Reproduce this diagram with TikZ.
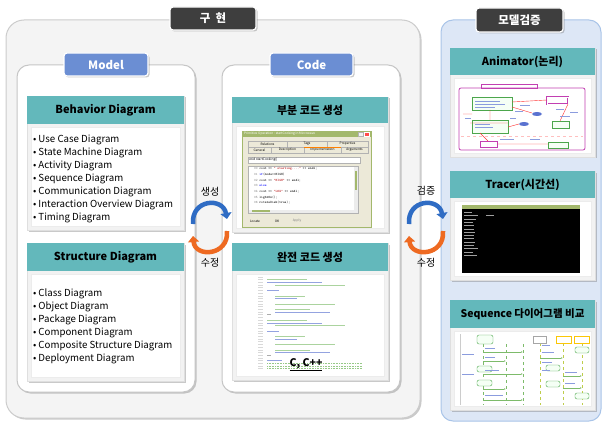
\documentclass[tikz,border=0pt]{standalone}
\usepackage{fontspec}
\setmainfont{Noto Sans CJK KR}
\usetikzlibrary{fit,shadows,arrows.meta}
\definecolor{tealhd}{HTML}{63B8BB}
\definecolor{tagblue}{HTML}{6B8ED3}
\definecolor{tagdark}{HTML}{3E3E3E}
\definecolor{implbg}{HTML}{F4F4F4}
\definecolor{verbg}{HTML}{DDE7F6}
\definecolor{verline}{HTML}{A9C4E8}
\definecolor{arrblue}{HTML}{2F6CC4}
\definecolor{arrorange}{HTML}{EE6A22}
\definecolor{shotgreen}{HTML}{A3B86C}
\definecolor{shotpanel}{HTML}{ECE9D8}
\definecolor{animpink}{HTML}{C23FB2}
\definecolor{cmt}{HTML}{7DBB6A}
\definecolor{kw}{HTML}{5A72D0}

\begin{document}
\begin{tikzpicture}[x=1pt,y=-1pt,
  box/.style={inner sep=0pt,outer sep=0pt},
  shade/.style={drop shadow={shadow xshift=1.5pt,shadow yshift=-1.5pt,opacity=.35,fill=black!60}},
  panel/.style={box,shade,fill=white,draw=gray!45,line width=1pt,rounded corners=12pt},
  tag/.style={box,shade,draw=white,line width=1.2pt,rounded corners=3pt,text=white,font=\bfseries\fontsize{11.5}{11.5}\selectfont},
  card/.style={box,shade,fill=gray!10,draw=gray!25},
  cardhead/.style={box,fill=tealhd},
  cardbody/.style={box,fill=white,draw=gray!15},
  headtext/.style={box,font=\bfseries\fontsize{11}{11}\selectfont},
  listtext/.style={box,align=left,anchor=north west,font=\fontsize{9.7}{13}\selectfont},
  turnlabel/.style={box,font=\fontsize{10}{10}\selectfont},
  turnblue/.style={draw=arrblue,line width=4.5pt,-{Triangle[length=6pt,width=11pt]}},
  turnorange/.style={draw=arrorange,line width=4.5pt,-{Triangle[length=6pt,width=11pt]}},
  tiny/.style={box,font=\fontsize{3.2}{4}\selectfont},
  shot/.style={box,line width=.4pt},
  smgreen/.style={draw=green!50!black!70,fill=green!4,line width=.4pt},
]

  \newcommand\Card[7]{%
    \node[card,fit={(#2,#3) (#4,#5)}] (#1) {};
    \node[cardbody,fit={(#2+4,#6+3) (#4-4,#5-4)}] (#1-body) {};
    \node[cardhead,fit={(#2,#3) (#4,#6)}] (#1-head) {};
    \node[headtext] (#1-title) at (#1-head.center) {#7};
  }

  \useasboundingbox (0,0) rectangle (605,425);

  %% outer frames
  \node[box,shade,fill=implbg,draw=gray!40,line width=1pt,rounded corners=18pt,fit={(6,20) (420,418)}] (impl) {};
  \node[box,fill=verbg,draw=verline,line width=1pt,rounded corners=12pt,fit={(441,20) (601,421)}] (verify) {};
  \node[tag,fill=tagdark,minimum width=86pt,minimum height=23pt] (implTag) at (213,18.5) {구\hspace{.45em}현};
  \node[tag,fill=tagdark,minimum width=87pt,minimum height=24pt] (verifyTag) at (519.5,20) {모델검증};

  %% model / code
  \node[panel,fit={(17,65) (195,392)}] (model) {};
  \node[panel,fit={(222,65) (400,392)}] (code) {};
  \node[tag,fill=tagblue,minimum width=84pt,minimum height=23pt] (modelTag) at (106,64.5) {Model};
  \node[tag,fill=tagblue,minimum width=83pt,minimum height=23pt] (codeTag) at (311.5,64.5) {Code};

  \Card{behav}{27}{96}{184}{230}{124}{Behavior Diagram}
  \Card{struct}{27}{243}{184}{381}{271}{Structure Diagram}
  \Card{partial}{232}{97}{388}{232}{123}{부분 코드 생성}
  \Card{full}{232}{243}{388}{380}{271}{완전 코드 생성}
  \Card{anim}{450}{48}{595}{157}{75}{Animator(논리)}
  \Card{tracer}{450}{171}{595}{280}{198}{Tracer(시간선)}
  \Card{seq}{450}{300}{595}{410}{328}{{\fontsize{10.5}{10.5}\selectfont Sequence 다이어그램 비교}}

  \node[listtext] (behav-list) at (33,135) {• Use Case Diagram\\• State Machine Diagram\\• Activity Diagram\\• Sequence Diagram\\• Communication Diagram\\• Interaction Overview Diagram\\• Timing Diagram};
  \node[listtext] (struct-list) at (33,289) {• Class Diagram\\• Object Diagram\\• Package Diagram\\• Component Diagram\\• Composite Structure Diagram\\• Deployment Diagram};

  %% partial code screenshot
  \node[shot,fill=shotpanel,draw=shotgreen,line width=.8pt,fit={(242,131) (371,227)}] (pshot) {};
  \node[shot,fill=shotgreen,fit={(242,131) (371,137)}] (pbar) {};
  \node[tiny,text=white,anchor=west] (ptitle) at (244,134) {Primitive Operation : startCooking in Microwave};
  \node[shot,fill=gray!10,draw=gray!60,fit={(358,132) (363,136)}] (pmin) {};
  \node[shot,fill=red!70,draw=white,fit={(364,132) (369,136)}] (pclose) {};
  \foreach \a/\b/\t [count=\i] in {248/287/Relations,287/327/Tags,327/368/Properties}{
    \node[shot,draw=gray!60,fill=shotpanel,fit={(\a,141) (\b,147)}] (tabA\i) {};
    \node[tiny] (tabAt\i) at (tabA\i) {\t};
  }
  \foreach \a/\b/\t [count=\i] in {248/271/General,271/304/Description,304/341/Implementation,341/368/Arguments}{
    \node[shot,draw=gray!60,fill=shotpanel,fit={(\a,147) (\b,153)}] (tabB\i) {};
    \node[tiny] (tabBt\i) at (tabB\i) {\t};
  }
  \draw[orange,line width=.8pt] (tabB3.north west) -- (tabB3.north east);
  \node[shot,fill=white,draw=gray!60,fit={(248,157) (360,163)}] (pfield) {};
  \node[tiny,anchor=west] (pfieldtext) at (249,160) {void startCooking()};
  \node[shot,fill=white,draw=gray!60,fit={(248,166) (358,213)}] (parea) {};
  \node[shot,fill=gray!15,fit={(354,166.5) (357.5,212.5)}] (pscroll) {};
  \node[shot,fill=shotgreen,fit={(354.5,171) (357,190)}] (pthumb) {};
  \node[shot,fill=gray!15,fit={(248.5,209.5) (354,212.5)}] (phscroll) {};
  \node[shot,fill=shotgreen,fit={(252,210) (270,212)}] (phthumb) {};
  \node[box,anchor=north west,align=left,font=\ttfamily\fontsize{3.4}{5.7}\selectfont] (pcode) at (254,167.5) {%
    \textcolor{gray}{00} cout << \textcolor{red!70!black}{" starting...."} << endl;\\
    \textcolor{gray}{01} \textcolor{blue}{if}(mode==HIGH)\\
    \textcolor{gray}{02} cout << \textcolor{red!70!black}{"HIGH"} << endl;\\
    \textcolor{gray}{03} \textcolor{blue}{else}\\
    \textcolor{gray}{04} cout << \textcolor{red!70!black}{"LOW"} << endl;\\
    \textcolor{gray}{05} lightOn();\\
    \textcolor{gray}{06} rotateDish(true);};
  \node[tiny] (plocate) at (255,221) {Locate};
  \node[tiny] (pok) at (277,221) {OK};
  \node[tiny,text=gray] (papply) at (297,221) {Apply};

  %% full code screenshot
  \foreach \o/\l/\c [count=\i from 0] in {0/0/white,0/40/cmt,0/55/kw,8/70/cmt,0/0/white,0/12/kw,0/0/white,8/30/cmt,8/22/kw,0/0/white,8/60/cmt,0/0/white,8/35/cmt,8/55/kw,0/4/gray,0/0/white,0/40/cmt,0/55/kw,8/70/cmt,0/0/white,0/12/kw,0/0/white,8/30/cmt,8/22/kw,0/0/white,8/60/cmt,0/0/white,8/35/cmt,8/55/kw,0/4/gray,0/0/white,0/15/kw}{
    \draw[gray!30,line width=.7pt] (258,277+2.7*\i) -- (263,277+2.7*\i);
    \draw[\c!65,line width=.7pt] (267+\o,277+2.7*\i) -- ++(\l,0);
  }
  \foreach \i in {32,33,34}{
    \draw[gray!30,line width=.7pt] (258,277+2.7*\i) -- (263,277+2.7*\i);
    \draw[cmt!80,line width=.7pt,dash pattern=on 1pt off .6pt] (267,277+2.7*\i) -- ++(95,0);
  }
  \node[box,font=\bfseries\fontsize{10.5}{10.5}\selectfont] (lang) at (306,365) {\underline{C, C++}};

  %% animator screenshot
  \draw[animpink,line width=.6pt] (481,84) rectangle (537,88);
  \draw[animpink,line width=.8pt,rounded corners=2pt] (459,88) rectangle (585,150);
  \draw[pink,dashed,line width=.5pt] (461,136) -- (583,136);
  \draw[smgreen] (472,97) rectangle (512,110);
  \draw[smgreen] (472,120) rectangle (508,133);
  \draw[smgreen] (552,121) rectangle (569,128);
  \draw[smgreen] (548,142) rectangle (568,148);
  \draw[animpink,fill=white,line width=.5pt] (480,141) rectangle (497,147);
  \draw[animpink,fill=white,line width=.6pt,double] (547,97) rectangle (568,104);
  \fill[kw] (537,114) ellipse [x radius=5,y radius=2];
  \fill[kw] (524,124) ellipse [x radius=5,y radius=2];
  \draw[red!80,line width=.4pt] (512,102) -- (547,100) (490,110) -- (490,120) (568,104) -- (560,121)
    (508,127) -- (519,124) (480,133) -- (488,141) (497,144) -- (548,144) (512,107) -- (532,113)
    (472,114) -- (463,114) (508,123) -- (470,123);
  \foreach \x/\y/\l in {475/101/25,475/104/30,475/107/20,475/124/15,475/127/18,520/105/10,515/111/8,556/109/8,560/116/10,500/139/14,530/139/10,570/112/8,465/118/6,510/118/6}
    \draw[kw!70,line width=.5pt] (\x,\y) -- ++(\l,0);

  %% tracer screenshot
  \node[shot,fill=black,fit={(462,205) (580,273)}] (tscreen) {};
  \node[shot,fill=shotgreen,fit={(462,205) (580,209)}] (tbar) {};
  \foreach \l [count=\i] in {8,14,12,9,10,10,11,10,10,11,10,14,9,13}
    \draw[gray!75,line width=.6pt] (464,209+3.3*\i) -- ++(\l,0);
  \draw[gray!75,line width=.6pt] (486,215.6) -- ++(8,0);

  %% sequence screenshot
  \draw[gray!40,line width=.5pt] (460,334) -- (460,405);
  \foreach \x in {483,506,523}
    \draw[cmt,dashed,line width=.4pt] (\x,344) -- (\x,405);
  \foreach \x in {540,563,582}
    \draw[shotgreen!70!yellow,dashed,line width=.4pt] (\x,343) -- (\x,405);
  \draw[smgreen,rounded corners=2pt] (477,335) rectangle (493,344);
  \draw[smgreen,rounded corners=2pt] (477,366) rectangle (492,372);
  \draw[smgreen,rounded corners=2pt] (477,380) rectangle (492,386);
  \draw[gray!70,fill=white,line width=.4pt] (533,336) rectangle (546,343);
  \draw[yellow!60!orange,fill=white,line width=.4pt] (556,336) rectangle (571,343);
  \draw[yellow!60!orange,fill=white,line width=.4pt] (574,336) rectangle (589,343);
  \draw[smgreen,rounded corners=2pt] (575,347) rectangle (589,353);
  \draw[smgreen,rounded corners=2pt] (546,365) rectangle (560,371);
  \draw[smgreen,rounded corners=2pt] (546,381) rectangle (560,387);
  \draw[smgreen,rounded corners=2pt] (575,393) rectangle (589,399);
  \foreach \y/\a/\b in {352/483/523,361/483/506,374/483/523,389/483/506,400/483/523,358/540/563,376/563/582,388/563/582}
    \draw[cmt,line width=.4pt,-{Latex[length=2pt]}] (\a,\y) -- (\b,\y);
  \foreach \x/\y/\l in {462/354/12,462/374/12,485/348/10,485/357/10,485/370/14,485/395/18,542/345/8,542/352/12,542/362/10,542/370/8,565/372/12,565/383/10}
    \draw[kw!70,line width=.5pt] (\x,\y) -- ++(\l,0);

  %% turning arrows
  \coordinate (g1a) at (193,224); \coordinate (g1b) at (227,219);
  \coordinate (g1c) at (227,231); \coordinate (g1d) at (193,236);
  \draw[turnblue] (g1a) .. controls (191,199) and (223,197) .. (g1b);
  \draw[turnorange] (g1c) .. controls (229,256) and (195,258) .. (g1d);
  \node[turnlabel] (gen) at (210,192) {생성};
  \node[turnlabel] (fix1) at (210,263) {수정};

  \coordinate (g2a) at (409,224); \coordinate (g2b) at (443,219);
  \coordinate (g2c) at (443,231); \coordinate (g2d) at (409,236);
  \draw[turnblue] (g2a) .. controls (407,199) and (439,197) .. (g2b);
  \draw[turnorange] (g2c) .. controls (445,256) and (411,258) .. (g2d);
  \node[turnlabel] (check) at (426,191) {검증};
  \node[turnlabel] (fix2) at (426,263) {수정};

\end{tikzpicture}
\end{document}
